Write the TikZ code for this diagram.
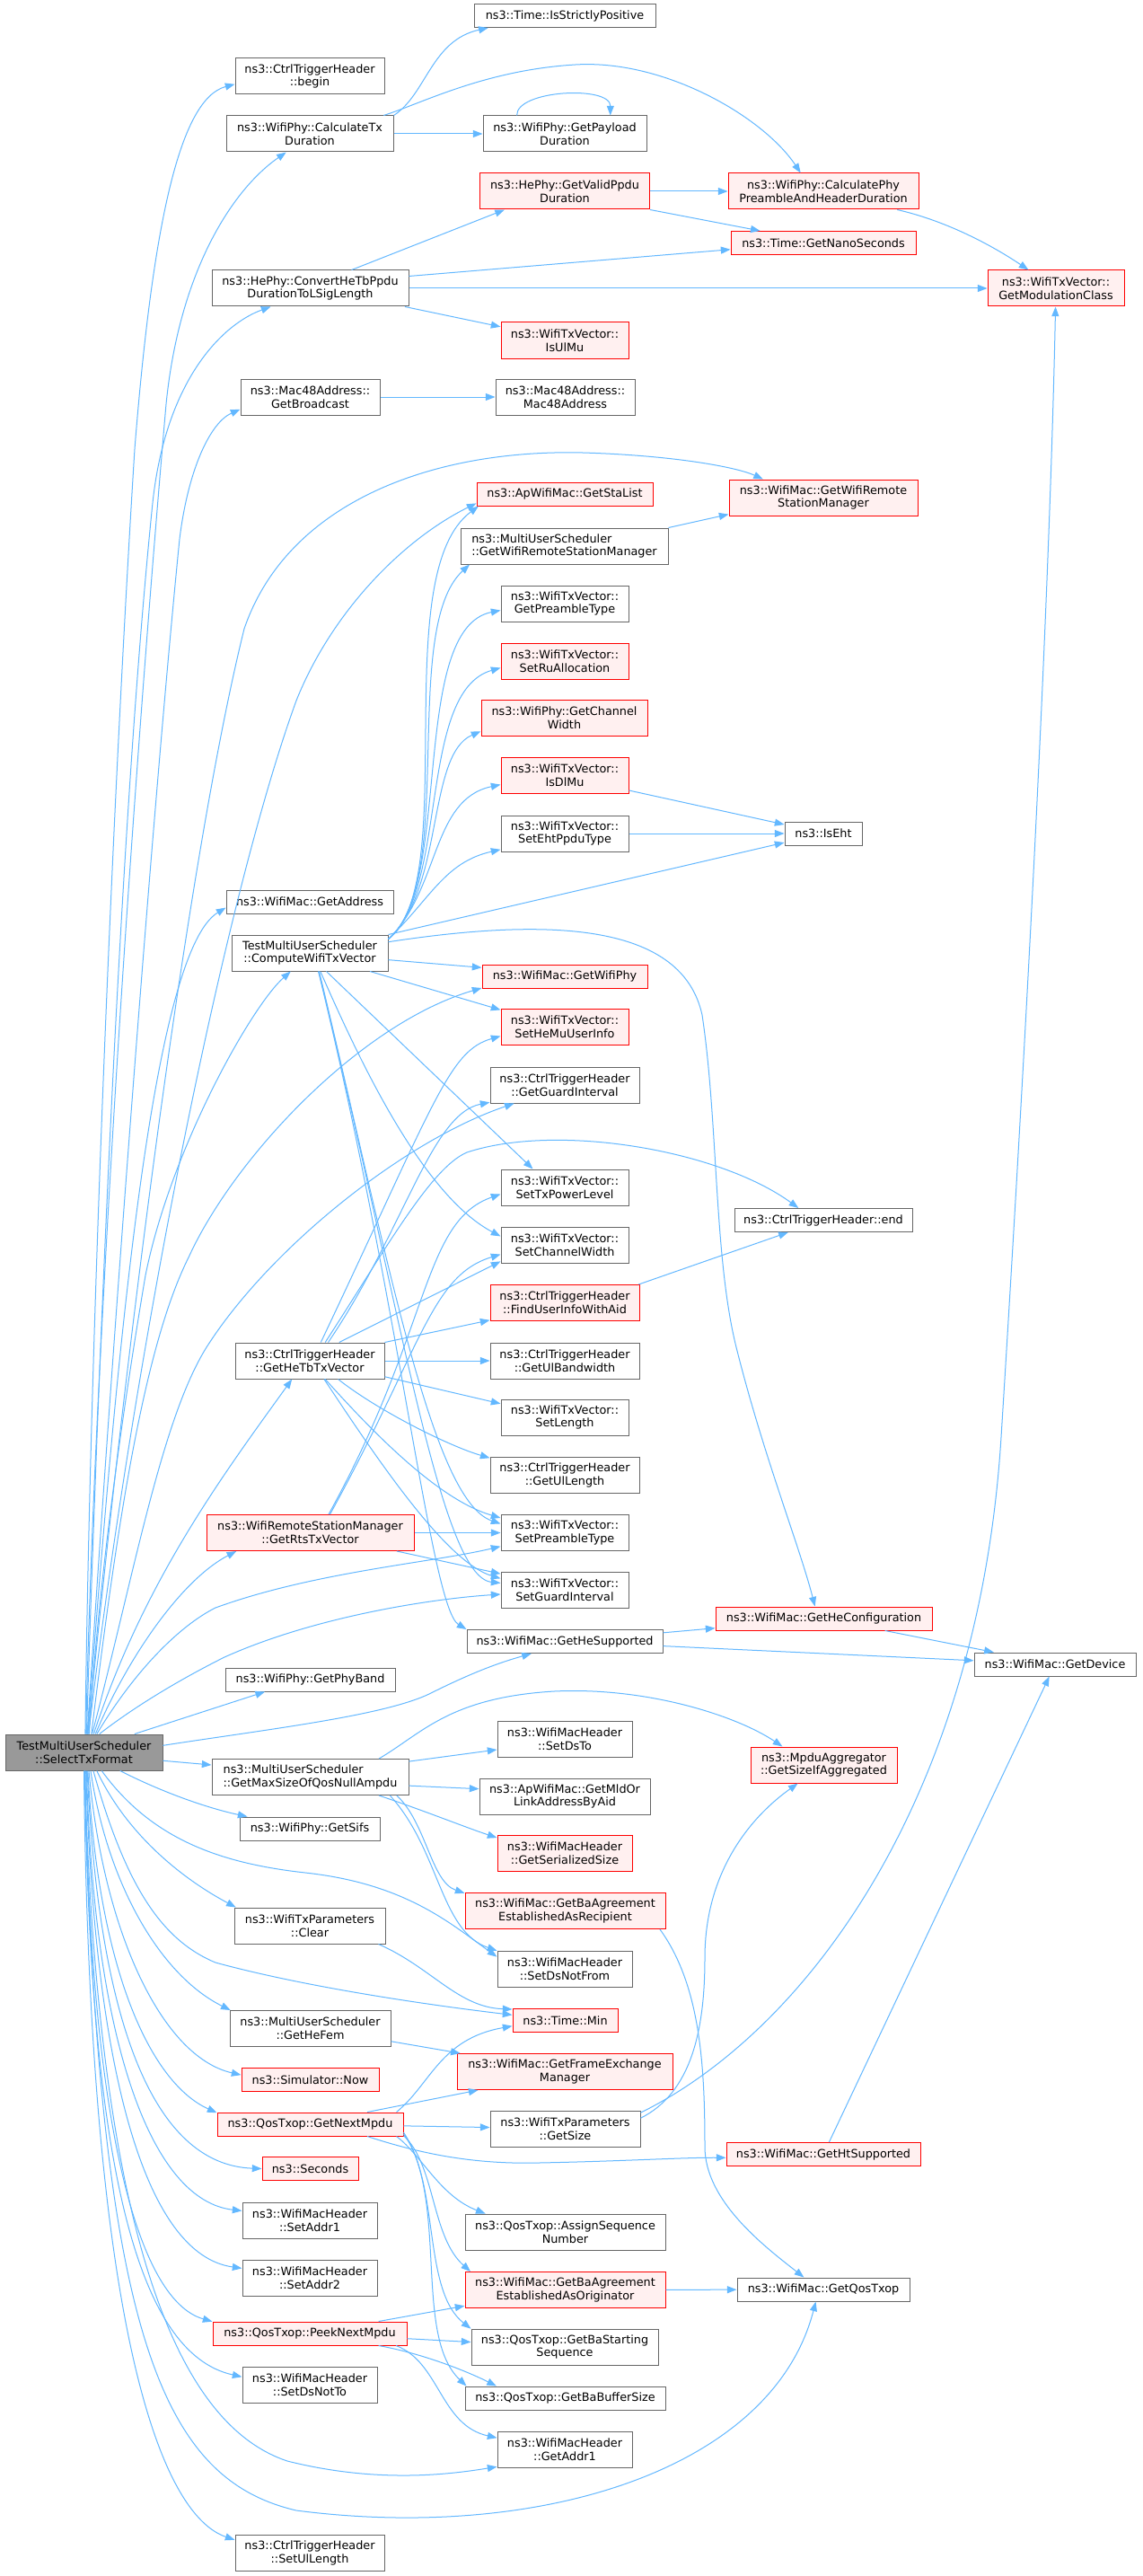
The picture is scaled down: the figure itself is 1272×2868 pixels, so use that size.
\documentclass[tikz,border=0pt]{standalone}
\usepackage{fontspec}
\setmainfont{DejaVu Sans}
\usepackage{tikz}
\usetikzlibrary{arrows.meta}
\definecolor{edgeblue}{HTML}{63B8FF}
\definecolor{boxgray}{HTML}{666666}
\definecolor{redfill}{HTML}{FFF0F0}
\definecolor{selfill}{HTML}{999999}
\tikzset{
	fnbox/.style={draw=boxgray,fill=white,line width=0.75pt,inner sep=0pt,align=center,font=\fontsize{9.6}{11}\selectfont},
	redbox/.style={fnbox,draw=red,fill=redfill},
	selbox/.style={fnbox,draw=boxgray,fill=selfill},
	oneln/.style={minimum height=19.5pt},
	twoln/.style={minimum height=30pt},
	bw/.style={minimum width=#1*0.75pt},
	call/.style={draw=edgeblue,line width=0.75pt,-{Triangle[length=8pt,width=6pt]}}
}
\begin{document}
\begin{tikzpicture}[x=0.75pt,y=-0.75pt]
            \path[fill=white,use as bounding box] (0,0) rectangle (1272,2868);
            \node[fnbox,oneln,bw=202] (isPos) at (629,17.5) {ns3::Time::IsStrictlyPositive};
            \node[fnbox,twoln,bw=166] (trigBegin) at (345,85) {ns3::CtrlTriggerHeader\\::begin};
            \node[fnbox,twoln,bw=186] (calcTx) at (345,149) {ns3::WifiPhy::CalculateTx\\Duration};
            \node[fnbox,twoln,bw=182] (payload) at (629,149) {ns3::WifiPhy::GetPayload\\Duration};
            \node[redbox,twoln,bw=189] (validPpdu) at (629,213) {ns3::HePhy::GetValidPpdu\\Duration};
            \node[redbox,twoln,bw=212] (phyPre) at (917,213) {ns3::WifiPhy::CalculatePhy\\PreambleAndHeaderDuration};
            \node[redbox,oneln,bw=206] (nanoSec) at (917,270.5) {ns3::Time::GetNanoSeconds};
            \node[redbox,twoln,bw=152] (modClass) at (1176,321) {ns3::WifiTxVector::\\GetModulationClass};
            \node[fnbox,twoln,bw=219] (convHeTb) at (345.5,321) {ns3::HePhy::ConvertHeTbPpdu\\DurationToLSigLength};
            \node[redbox,twoln,bw=142] (isUlMu) at (629,379) {ns3::WifiTxVector::\\IsUlMu};
            \node[fnbox,twoln,bw=155] (getBcast) at (345.5,442) {ns3::Mac48Address::\\GetBroadcast};
            \node[fnbox,twoln,bw=155] (mac48) at (629.5,442) {ns3::Mac48Address::\\Mac48Address};
            \node[redbox,twoln,bw=210] (macRsm) at (917,554) {ns3::WifiMac::GetWifiRemote\\StationManager};
            \node[redbox,oneln,bw=196] (staList) at (629,550) {ns3::ApWifiMac::GetStaList};
            \node[fnbox,twoln,bw=231,align=left] (musRsm) at (628.5,608) {ns3::MultiUserScheduler\\::GetWifiRemoteStationManager};
            \node[fnbox,twoln,bw=142] (preType) at (629,672) {ns3::WifiTxVector::\\GetPreambleType};
            \node[redbox,twoln,bw=142] (setRu) at (629,736) {ns3::WifiTxVector::\\SetRuAllocation};
            \node[redbox,twoln,bw=185] (chanWidth) at (628.5,799.5) {ns3::WifiPhy::GetChannel\\Width};
            \node[redbox,twoln,bw=142] (isDlMu) at (629,863.5) {ns3::WifiTxVector::\\IsDlMu};
            \node[fnbox,twoln,bw=142] (setEht) at (629,928) {ns3::WifiTxVector::\\SetEhtPpduType};
            \node[fnbox,oneln,bw=86] (isEht) at (917,928) {ns3::IsEht};
            \node[fnbox,oneln,bw=186] (getAddr) at (345,1004) {ns3::WifiMac::GetAddress};
            \node[fnbox,twoln,bw=174] (compute) at (345,1061) {TestMultiUserScheduler\\::ComputeWifiTxVector};
            \node[redbox,oneln,bw=184] (wifiPhy) at (629,1087) {ns3::WifiMac::GetWifiPhy};
            \node[redbox,twoln,bw=142] (setHeMu) at (629,1143.5) {ns3::WifiTxVector::\\SetHeMuUserInfo};
            \node[fnbox,twoln,bw=166] (trigGi) at (629,1208) {ns3::CtrlTriggerHeader\\::GetGuardInterval};
            \node[fnbox,twoln,bw=142] (setTxPow) at (629,1322) {ns3::WifiTxVector::\\SetTxPowerLevel};
            \node[fnbox,oneln,bw=198] (trigEnd) at (917,1358.5) {ns3::CtrlTriggerHeader::end};
            \node[fnbox,twoln,bw=142] (setChW) at (629,1386.5) {ns3::WifiTxVector::\\SetChannelWidth};
            \node[redbox,twoln,bw=166] (findUser) at (629,1450.5) {ns3::CtrlTriggerHeader\\::FindUserInfoWithAid};
            \node[fnbox,twoln,bw=166] (heTb) at (345,1515) {ns3::CtrlTriggerHeader\\::GetHeTbTxVector};
            \node[fnbox,twoln,bw=166] (ulBw) at (629,1515) {ns3::CtrlTriggerHeader\\::GetUlBandwidth};
            \node[fnbox,twoln,bw=142] (setLen) at (629,1578) {ns3::WifiTxVector::\\SetLength};
            \node[fnbox,twoln,bw=166] (ulLen) at (629,1642.5) {ns3::CtrlTriggerHeader\\::GetUlLength};
            \node[redbox,twoln,bw=231] (rts) at (345.5,1706.5) {ns3::WifiRemoteStationManager\\::GetRtsTxVector};
            \node[fnbox,twoln,bw=142] (setPre) at (629,1706.5) {ns3::WifiTxVector::\\SetPreambleType};
            \node[fnbox,twoln,bw=142] (setGi) at (629,1770) {ns3::WifiTxVector::\\SetGuardInterval};
            \node[redbox,oneln,bw=241] (heConf) at (917.5,1802) {ns3::WifiMac::GetHeConfiguration};
            \node[fnbox,oneln,bw=218] (heSup) at (629,1827.5) {ns3::WifiMac::GetHeSupported};
            \node[fnbox,oneln,bw=180] (device) at (1175,1853) {ns3::WifiMac::GetDevice};
            \node[fnbox,oneln,bw=189] (phyBand) at (345.5,1870) {ns3::WifiPhy::GetPhyBand};
            \node[fnbox,twoln,bw=150] (setDsTo) at (629,1936) {ns3::WifiMacHeader\\::SetDsTo};
            \node[redbox,twoln,bw=163] (sizeAgg) at (917.5,1965) {ns3::MpduAggregator\\::GetSizeIfAggregated};
            \node[selbox,twoln,bw=175] (sel) at (93.5,1951) {TestMultiUserScheduler\\::SelectTxFormat};
            \node[fnbox,twoln,bw=219,align=left] (maxNull) at (345.5,1978.5) {ns3::MultiUserScheduler\\::GetMaxSizeOfQosNullAmpdu};
            \node[fnbox,twoln,bw=190] (mldAddr) at (629,2000) {ns3::ApWifiMac::GetMldOr\\LinkAddressByAid};
            \node[fnbox,oneln,bw=156] (sifs) at (345,2036) {ns3::WifiPhy::GetSifs};
            \node[redbox,twoln,bw=150] (serSize) at (629,2063.5) {ns3::WifiMacHeader\\::GetSerializedSize};
            \node[redbox,twoln,bw=223] (baRecip) at (629.5,2127.5) {ns3::WifiMac::GetBaAgreement\\EstablishedAsRecipient};
            \node[fnbox,twoln,bw=168] (txpClear) at (345,2144) {ns3::WifiTxParameters\\::Clear};
            \node[fnbox,twoln,bw=150] (dsNotFrom) at (629,2192) {ns3::WifiMacHeader\\::SetDsNotFrom};
            \node[redbox,oneln,bw=117] (timeMin) at (629.5,2249.5) {ns3::Time::Min};
            \node[fnbox,twoln,bw=179] (heFem) at (345.5,2258.5) {ns3::MultiUserScheduler\\::GetHeFem};
            \node[redbox,twoln,bw=240] (feMgr) at (629,2306.5) {ns3::WifiMac::GetFrameExchange\\Manager};
            \node[redbox,oneln,bw=153] (simNow) at (345.5,2315.5) {ns3::Simulator::Now};
            \node[redbox,oneln,bw=207] (nextMpdu) at (345.5,2365) {ns3::QosTxop::GetNextMpdu};
            \node[fnbox,twoln,bw=167] (txpSize) at (629.5,2370) {ns3::WifiTxParameters\\::GetSize};
            \node[redbox,oneln,bw=216] (htSup) at (917,2398.5) {ns3::WifiMac::GetHtSupported};
            \node[redbox,oneln,bw=107] (seconds) at (345.5,2414.5) {ns3::Seconds};
            \node[fnbox,twoln,bw=150] (setAddr1) at (345,2472) {ns3::WifiMacHeader\\::SetAddr1};
            \node[fnbox,twoln,bw=223] (assignSeq) at (629.5,2485) {ns3::QosTxop::AssignSequence\\Number};
            \node[fnbox,twoln,bw=150] (setAddr2) at (345,2536) {ns3::WifiMacHeader\\::SetAddr2};
            \node[redbox,twoln,bw=223] (baOrig) at (629.5,2549.5) {ns3::WifiMac::GetBaAgreement\\EstablishedAsOriginator};
            \node[fnbox,oneln,bw=192] (qosTxop) at (917,2549) {ns3::WifiMac::GetQosTxop};
            \node[redbox,oneln,bw=216] (peekMpdu) at (345,2598) {ns3::QosTxop::PeekNextMpdu};
            \node[fnbox,twoln,bw=208] (baStart) at (629,2613) {ns3::QosTxop::GetBaStarting\\Sequence};
            \node[fnbox,twoln,bw=150] (dsNotTo) at (345,2655.5) {ns3::WifiMacHeader\\::SetDsNotTo};
            \node[fnbox,oneln,bw=223] (baBuf) at (629.5,2670) {ns3::QosTxop::GetBaBufferSize};
            \node[fnbox,twoln,bw=150] (getAddr1) at (629,2727.5) {ns3::WifiMacHeader\\::GetAddr1};
            \node[fnbox,twoln,bw=166] (setUlLen) at (345,2842.5) {ns3::CtrlTriggerHeader\\::SetUlLength};
            \draw[call] (calcTx.north east) .. controls (475,105) and (480,45) .. (isPos.189);
            \draw[call] (calcTx.14) .. controls (470,115) and (540,78) .. (641,72) .. controls (740,66) and (850,130) .. (phyPre.141);
            \draw[call] (calcTx) -- (payload);
            \draw[call] (payload.159) .. controls (575,100) and (680,95) .. (payload.22);
            \draw[call] (validPpdu) -- (phyPre);
            \draw[call] (validPpdu.south east) -- (nanoSec);
            \draw[call] (phyPre.-14) .. controls (1050,245) and (1100,270) .. (modClass);
            \draw[call] (convHeTb.24) -- (validPpdu.197);
            \draw[call] (convHeTb.7) -- (nanoSec.184);
            \draw[call] (convHeTb) -- (modClass);
            \draw[call] (convHeTb.-11) -- (isUlMu.168);
            \draw[call] (getBcast) -- (mac48);
            \draw[call] (musRsm.north east) -- (macRsm.190);
            \draw[call] (isDlMu.-13) -- (isEht.167);
            \draw[call] (setEht) -- (isEht);
            \draw[call] (findUser.14) -- (trigEnd.199);
            \draw[call] (heConf) -- (device);
            \draw[call] (heSup) -- (heConf);
            \draw[call] (heSup) -- (device);
            \draw[call] (htSup) -- (device);
            \draw[call] (txpSize.12) .. controls (900,2260) and (1090,2000) .. (1115,1600) .. controls (1140,1200) and (1168,700) .. (modClass);
            \draw[call] (txpSize.8) .. controls (770,2330) and (785,2260) .. (785,2180) .. controls (785,2080) and (840,2020) .. (sizeAgg);
            \draw[call] (baRecip.-11) .. controls (780,2210) and (785,2300) .. (785,2390) .. controls (785,2450) and (850,2500) .. (qosTxop.148);
            \draw[call] (baOrig) -- (qosTxop);
            \draw[call] (compute.10) .. controls (515,980) and (430,640) .. (staList.188);
            \draw[call] (compute.10) .. controls (510,980) and (445,700) .. (musRsm.191);
            \draw[call] (compute.10) .. controls (505,990) and (455,700) .. (preType.186);
            \draw[call] (compute.10) .. controls (500,990) and (465,770) .. (setRu.186);
            \draw[call] (compute.10) .. controls (495,990) and (475,840) .. (chanWidth.189);
            \draw[call] (compute.10) .. controls (490,990) and (480,890) .. (isDlMu.188);
            \draw[call] (compute.10) .. controls (480,1000) and (495,960) .. (setEht.194);
            \draw[call] (compute.north east) -- (isEht);
            \draw[call] (compute.8) .. controls (620,1020) and (760,1030) .. (782,1130) .. controls (800,1250) and (795,1400) .. (820,1500) .. controls (850,1620) and (890,1720) .. (heConf.126);
            \draw[call] (compute.-5) -- (wifiPhy.174);
            \draw[call] (compute.-17) -- (setHeMu.165);
            \draw[call] (compute.-48) -- (setTxPow.150);
            \draw[call] (compute.-60) .. controls (400,1180) and (470,1330) .. (setChW.172);
            \draw[call] (compute.-63) .. controls (430,1390) and (480,1670) .. (setPre.172);
            \draw[call] (compute.-64) .. controls (445,1450) and (490,1755) .. (setGi.174);
            \draw[call] (compute.-65) .. controls (445,1450) and (480,1790) .. (heSup.173);
            \draw[call] (heTb.59) .. controls (485,1225) and (500,1170) .. (setHeMu.188);
            \draw[call] (heTb.50) .. controls (430,1390) and (480,1300) .. (520,1283) .. controls (620,1250) and (800,1280) .. (trigEnd.154);
            \draw[call] (heTb.45) .. controls (450,1370) and (480,1240) .. (trigGi.193);
            \draw[call] (heTb.32) -- (setChW.194);
            \draw[call] (heTb.north east) -- (findUser.193);
            \draw[call] (heTb) -- (ulBw);
            \draw[call] (heTb.-12) -- (setLen.168);
            \draw[call] (heTb.-33) .. controls (420,1570) and (500,1610) .. (ulLen.167);
            \draw[call] (heTb.-50) .. controls (420,1600) and (490,1670) .. (setPre.167);
            \draw[call] (heTb.-52) .. controls (430,1640) and (500,1740) .. (setGi.170);
            \draw[call] (rts) -- (setPre);
            \draw[call] (rts.-12) -- (setGi.166);
            \draw[call] (rts.45) .. controls (480,1480) and (470,1360) .. (setTxPow.186);
            \draw[call] (rts.43) .. controls (470,1500) and (480,1420) .. (setChW.188);
            \draw[call] (sel.86) .. controls (100,1500) and (125,900) .. (150,500) .. controls (170,250) and (200,110) .. (trigBegin.186);
            \draw[call] (sel.84) .. controls (105,1500) and (150,850) .. (185,450) .. controls (200,300) and (260,210) .. (calcTx.218);
            \draw[call] (sel.82) .. controls (110,1500) and (135,900) .. (170,560) .. controls (185,420) and (250,360) .. (convHeTb.205);
            \draw[call] (sel.80) .. controls (125,1500) and (170,900) .. (200,600) .. controls (210,520) and (235,470) .. (getBcast.190);
            \draw[call] (sel.78) .. controls (140,1500) and (210,950) .. (272,700) .. controls (320,560) and (480,500) .. (649,504) .. controls (750,507) and (820,520) .. (macRsm.163);
            \draw[call] (sel.76) .. controls (150,1500) and (250,1000) .. (330,780) .. controls (370,680) and (450,600) .. (staList.186);
            \draw[call] (sel.79) .. controls (130,1500) and (170,1060) .. (getAddr.184);
            \draw[call] (sel.74) .. controls (110,1750) and (140,1550) .. (162,1420) .. controls (190,1280) and (280,1120) .. (compute.224);
            \draw[call] (sel.68) .. controls (130,1700) and (160,1500) .. (210,1400) .. controls (260,1290) and (400,1140) .. (wifiPhy.188);
            \draw[call] (sel.66) .. controls (150,1750) and (180,1580) .. (230,1500) .. controls (300,1390) and (450,1270) .. (trigGi.200);
            \draw[call] (sel.62) .. controls (160,1760) and (250,1640) .. (heTb.226);
            \draw[call] (sel.58) .. controls (140,1850) and (200,1760) .. (rts.194);
            \draw[call] (sel.55) .. controls (150,1860) and (200,1810) .. (240,1790) .. controls (350,1750) and (480,1740) .. (setPre.192);
            \draw[call] (sel.50) .. controls (150,1900) and (200,1870) .. (250,1845) .. controls (350,1800) and (480,1780) .. (setGi.184);
            \draw[call] (sel.20) -- (phyBand.195);
            \draw[call] (sel.5) .. controls (300,1925) and (430,1910) .. (480,1885) .. controls (530,1860) and (560,1850) .. (heSup.200);
            \draw[call] (sel.-6) -- (maxNull.173);
            \draw[call] (sel.-27) .. controls (190,2000) and (240,2015) .. (sifs.169);
            \draw[call] (sel.-46) .. controls (170,2050) and (250,2075) .. (340,2085) .. controls (450,2097) and (500,2140) .. (dsNotFrom.170);
            \draw[call] (sel.-55) .. controls (140,2040) and (200,2090) .. (txpClear.166);
            \draw[call] (sel.-63) .. controls (140,2100) and (180,2160) .. (240,2185) .. controls (350,2215) and (500,2235) .. (timeMin.174);
            \draw[call] (sel.-70) .. controls (120,2100) and (180,2200) .. (heFem.167);
            \draw[call] (sel.-75) .. controls (115,2150) and (180,2290) .. (simNow.176);
            \draw[call] (sel.-78) .. controls (110,2200) and (170,2320) .. (nextMpdu.173);
            \draw[call] (sel.-80) .. controls (110,2250) and (170,2410) .. (seconds.west);
            \draw[call] (sel.-82) .. controls (105,2280) and (170,2450) .. (setAddr1.172);
            \draw[call] (sel.-84) .. controls (105,2300) and (160,2510) .. (setAddr2.172);
            \draw[call] (sel.-86) .. controls (100,2350) and (150,2560) .. (peekMpdu.173);
            \draw[call] (sel.-87) .. controls (100,2400) and (150,2620) .. (dsNotTo.173);
            \draw[call] (sel.-88) .. controls (110,2500) and (200,2700) .. (320,2740) .. controls (420,2765) and (500,2755) .. (getAddr1.194);
            \draw[call] (sel.-89) .. controls (110,2600) and (180,2760) .. (330,2795) .. controls (600,2830) and (860,2750) .. (qosTxop.238);
            \draw[call] (sel.south) .. controls (100,2600) and (180,2800) .. (setUlLen.170);
            \draw[call] (maxNull.9) -- (setDsTo.189);
            \draw[call] (maxNull.-5) -- (mldAddr.175);
            \draw[call] (maxNull.-15) .. controls (470,2015) and (520,2035) .. (serSize.167);
            \draw[call] (maxNull.15) .. controls (470,1930) and (500,1890) .. (617,1883) .. controls (720,1878) and (820,1910) .. (sizeAgg.156);
            \draw[call] (maxNull.-12) .. controls (475,2030) and (480,2095) .. (baRecip.170);
            \draw[call] (maxNull.-13) .. controls (490,2060) and (490,2150) .. (dsNotFrom.165);
            \draw[call] (txpClear.-15) .. controls (480,2190) and (510,2235) .. (timeMin.168);
            \draw[call] (heFem.-9) -- (feMgr.170);
            \draw[call] (nextMpdu.8) .. controls (480,2320) and (490,2270) .. (timeMin.186);
            \draw[call] (nextMpdu.12) -- (feMgr.192);
            \draw[call] (nextMpdu) -- (txpSize);
            \draw[call] (nextMpdu.-12) .. controls (460,2395) and (520,2410) .. (600,2408) .. controls (700,2406) and (760,2402) .. (htSup.182);
            \draw[call] (nextMpdu.-8) .. controls (470,2400) and (490,2445) .. (assignSeq.167);
            \draw[call] (nextMpdu.-7) .. controls (485,2410) and (480,2490) .. (baOrig.169);
            \draw[call] (nextMpdu.-6) .. controls (490,2430) and (470,2550) .. (baStart.169);
            \draw[call] (nextMpdu.-5) .. controls (500,2450) and (460,2600) .. (baBuf.173);
            \draw[call] (peekMpdu.10) -- (baOrig.189);
            \draw[call] (peekMpdu.-3) -- (baStart.177);
            \draw[call] (peekMpdu.-10) .. controls (470,2620) and (520,2640) .. (baBuf.170);
            \draw[call] (peekMpdu.-8) .. controls (490,2630) and (490,2700) .. (getAddr1.170);
        \end{tikzpicture}
\end{document}
